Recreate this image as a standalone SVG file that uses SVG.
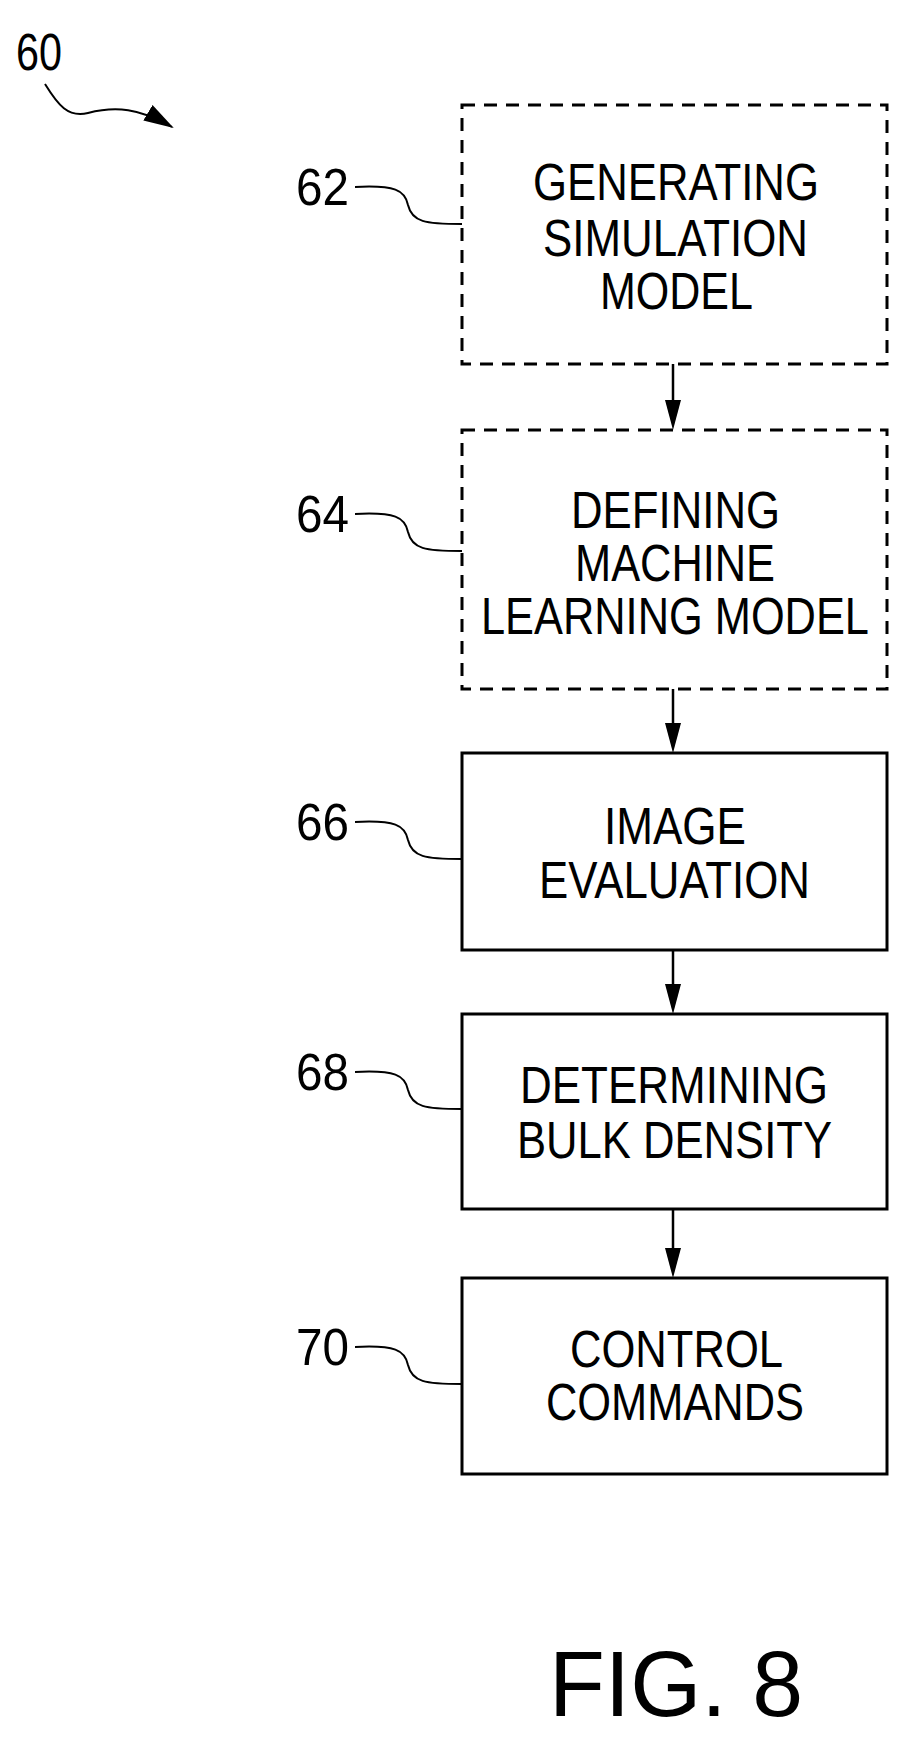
<svg xmlns="http://www.w3.org/2000/svg" width="909" height="1742" viewBox="0 0 909 1742">
<style>
.box{fill:none;stroke:#000;stroke-width:3}
.dash{stroke-dasharray:13 9}
.t{font-family:"Liberation Sans",Arial,sans-serif;font-size:52px;fill:#000}
.n{font-family:"Liberation Sans",Arial,sans-serif;font-size:52px;fill:#000}
.c{fill:none;stroke:#000;stroke-width:2.5}
.ld{fill:none;stroke:#000;stroke-width:2}
</style>
<defs>
<marker id="ah2" markerWidth="30" markerHeight="30" refX="28" refY="9" orient="auto" markerUnits="userSpaceOnUse" viewBox="0 0 30 18">
<path d="M0,0 L30,9 L0,18 Z" fill="#000"/>
</marker>
</defs>
<rect width="909" height="1742" fill="#fff"/>
<g id="n60">
<text class="n" x="16" y="70" textLength="46" lengthAdjust="spacingAndGlyphs">60</text>
<path class="ld" d="M45,84 C58,105 68,118 88,113 C115,106 140,108 172,127" marker-end="url(#ah2)"/>
</g>
<g id="n62">
<rect class="box dash" x="462" y="105" width="425" height="259"/>
<text class="t" x="533" y="200" textLength="286" lengthAdjust="spacingAndGlyphs">GENERATING</text>
<text class="t" x="543" y="256" textLength="265" lengthAdjust="spacingAndGlyphs">SIMULATION</text>
<text class="t" x="600" y="309" textLength="153" lengthAdjust="spacingAndGlyphs">MODEL</text>
<text class="n" x="296" y="205" textLength="53" lengthAdjust="spacingAndGlyphs">62</text>
<path class="ld" d="M355,187 C395,185 405,190 408,205 C412,222 425,224 462,224"/>
</g>
<g id="n64">
<rect class="box dash" x="462" y="430" width="425" height="259"/>
<text class="t" x="571" y="528" textLength="209" lengthAdjust="spacingAndGlyphs">DEFINING</text>
<text class="t" x="575" y="581" textLength="200" lengthAdjust="spacingAndGlyphs">MACHINE</text>
<text class="t" x="481" y="634" textLength="388" lengthAdjust="spacingAndGlyphs">LEARNING MODEL</text>
<text class="n" x="296" y="532" textLength="53" lengthAdjust="spacingAndGlyphs">64</text>
<path class="ld" d="M355,514 C395,512 405,517 408,532 C412,549 425,551 462,551"/>
</g>
<g id="n66">
<rect class="box" x="462" y="753" width="425" height="197"/>
<text class="t" x="604" y="844" textLength="142" lengthAdjust="spacingAndGlyphs">IMAGE</text>
<text class="t" x="539" y="898" textLength="271" lengthAdjust="spacingAndGlyphs">EVALUATION</text>
<text class="n" x="296" y="840" textLength="53" lengthAdjust="spacingAndGlyphs">66</text>
<path class="ld" d="M355,822 C395,820 405,825 408,840 C412,857 425,859 462,859"/>
</g>
<g id="n68">
<rect class="box" x="462" y="1014" width="425" height="195"/>
<text class="t" x="520" y="1103" textLength="308" lengthAdjust="spacingAndGlyphs">DETERMINING</text>
<text class="t" x="517" y="1158" textLength="315" lengthAdjust="spacingAndGlyphs">BULK DENSITY</text>
<text class="n" x="296" y="1090" textLength="53" lengthAdjust="spacingAndGlyphs">68</text>
<path class="ld" d="M355,1072 C395,1070 405,1075 408,1090 C412,1107 425,1109 462,1109"/>
</g>
<g id="n70">
<rect class="box" x="462" y="1278" width="425" height="196"/>
<text class="t" x="570" y="1367" textLength="213" lengthAdjust="spacingAndGlyphs">CONTROL</text>
<text class="t" x="546" y="1420" textLength="258" lengthAdjust="spacingAndGlyphs">COMMANDS</text>
<text class="n" x="296" y="1365" textLength="53" lengthAdjust="spacingAndGlyphs">70</text>
<path class="ld" d="M355,1347 C395,1345 405,1350 408,1365 C412,1382 425,1384 462,1384"/>
</g>
<g id="connectors">
<line class="c" x1="673" y1="364" x2="673" y2="400"/>
<path d="M665,400 L681,400 L673,430 Z"/>
<line class="c" x1="673" y1="689" x2="673" y2="723"/>
<path d="M665,723 L681,723 L673,753 Z"/>
<line class="c" x1="673" y1="950" x2="673" y2="984"/>
<path d="M665,984 L681,984 L673,1014 Z"/>
<line class="c" x1="673" y1="1209" x2="673" y2="1248"/>
<path d="M665,1248 L681,1248 L673,1278 Z"/>
</g>
<text x="549" y="1716" font-family="Liberation Sans, Arial, sans-serif" font-size="93" textLength="254" lengthAdjust="spacingAndGlyphs">FIG. 8</text>
</svg>
